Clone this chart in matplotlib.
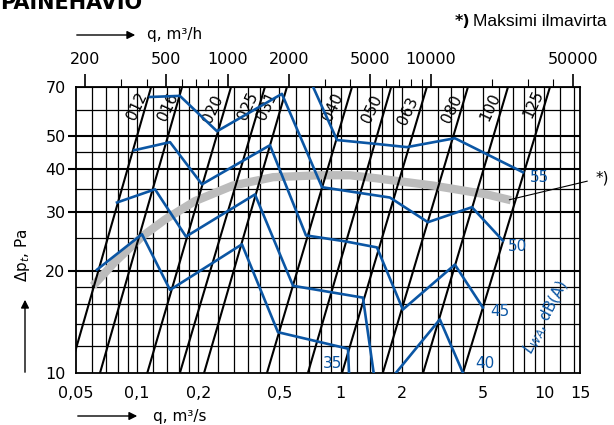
import matplotlib
matplotlib.use("Agg")
import matplotlib.pyplot as plt
from matplotlib.ticker import NullLocator, NullFormatter

# --- fan size lines: q (m3/s) where each line meets 10 Pa and 70 Pa ---
size_labels = ["012", "016", "020", "025", "031", "040", "050", "063", "080", "100", "125"]
size_q_at_10 = [0.0462, 0.0656, 0.112, 0.162, 0.213, 0.434, 0.690, 1.015, 1.61, 2.54, 3.99]
size_q_at_70 = [0.117, 0.166, 0.289, 0.424, 0.544, 1.136, 1.77, 2.65, 4.22, 6.64, 10.68]
size_label_q = [0.0997, 0.1416, 0.236, 0.350, 0.433, 0.916, 1.42, 2.14, 3.51, 5.42, 8.83]
size_label_p = [61.6, 61.2, 60.3, 61.6, 61.6, 61.2, 60.3, 59.5, 60.3, 61.2, 62.4]

# --- sound power level contours L_WA, dB(A) ---
lwa35_q = [0.0634, 0.1055, 0.1449, 0.327, 0.4915, 1.086, 1.11]
lwa35_p = [20.2, 25.7, 17.6, 24.0, 13.2, 11.8, 8.6]
lwa40_q = [0.0795, 0.1223, 0.1736, 0.379, 0.583, 1.286, 1.507, 3.07, 3.99]
lwa40_p = [31.9, 34.9, 25.3, 33.7, 18.1, 16.7, 8.55, 14.4, 10.0]
lwa45_q = [0.0964, 0.1449, 0.208, 0.449, 0.675, 1.049, 1.507, 2.02, 3.64, 5.0]
lwa45_p = [45.5, 48.1, 36.1, 47.1, 25.5, 24.5, 23.5, 15.4, 20.9, 15.6]
lwa50_q = [0.1155, 0.162, 0.2466, 0.514, 0.809, 1.745, 2.683, 4.415, 6.27]
lwa50_p = [65.4, 65.9, 51.8, 66.8, 35.4, 33.0, 27.9, 30.9, 24.6]
lwa55_q = [0.609, 0.959, 1.507, 2.116, 3.64, 7.86]
lwa55_p = [89.5, 48.8, 47.5, 46.5, 49.4, 39.2]

lwa_levels = ["35", "40", "45", "50", "55"]
lwa_label_q = [0.91, 5.11, 6.06, 7.40, 9.50]
lwa_label_p = [10.7, 10.7, 15.2, 23.6, 37.9]

# --- maximum airflow curve (grey band) ---
max_q = [0.0606, 0.0777, 0.1055, 0.1368, 0.192, 0.295, 0.465, 0.79, 1.11, 1.507, 2.84, 5.23, 6.86]
max_p = [18.1, 21.3, 25.3, 28.4, 32.2, 35.8, 37.9, 38.4, 38.4, 37.6, 35.8, 33.7, 32.4]

# --- axes scaffolding ---
x_ticks = [0.05, 0.1, 0.2, 0.5, 1, 2, 5, 10, 15]
x_ticklabels = ["0,05", "0,1", "0,2", "0,5", "1", "2", "5", "10", "15"]
y_ticks = [10, 20, 30, 40, 50, 70]
x_grid = [0.06, 0.07, 0.08, 0.09, 0.1, 0.12, 0.14, 0.16, 0.18, 0.2, 0.25, 0.3, 0.35, 0.4,
          0.5, 0.6, 0.7, 0.8, 0.9, 1, 1.2, 1.4, 1.6, 1.8, 2, 2.5, 3, 3.5, 4, 5, 6, 7, 8, 9,
          10, 12, 14]
y_grid = [12, 14, 16, 18, 25, 35, 45, 60]
y_grid_major = [20, 30, 40, 50]
top_major = [200, 500, 1000, 2000, 5000, 10000, 50000]
top_minor = [300, 400, 600, 700, 800, 900, 3000, 4000, 6000, 7000, 8000, 9000,
             20000, 30000, 40000]

BLUE = "#0b56a4"

fig = plt.figure(figsize=(6.14, 4.25), dpi=100)
ax = fig.add_axes([76 / 614, 52 / 425, 504 / 614, 286 / 425])
ax.set_xscale("log")
ax.set_yscale("log")
ax.set_xlim(0.05, 15)
ax.set_ylim(10, 70)

for x in x_grid:
    ax.axvline(x, color="black", lw=0.9, zorder=1)
for y in y_grid:
    ax.axhline(y, color="black", lw=0.9, zorder=1)
for y in y_grid_major:
    ax.axhline(y, color="black", lw=1.5, zorder=1)

# max airflow band
ax.plot(max_q, max_p, color="#bcbcbc", lw=6, solid_capstyle="butt", zorder=2)

# size lines + labels
for lab, q0, q1, lq, lp in zip(size_labels, size_q_at_10, size_q_at_70, size_label_q, size_label_p):
    ax.plot([q0, q1], [10, 70], color="black", lw=1.5, zorder=3)
    ax.text(lq, lp, lab, rotation=65, ha="center", va="center", fontsize=11,
            rotation_mode="anchor", zorder=4)

# LWA contours
for qs, ps in [(lwa35_q, lwa35_p), (lwa40_q, lwa40_p), (lwa45_q, lwa45_p),
               (lwa50_q, lwa50_p), (lwa55_q, lwa55_p)]:
    ax.plot(qs, ps, color=BLUE, lw=1.9, zorder=5)
for lab, lq, lp in zip(lwa_levels, lwa_label_q, lwa_label_p):
    ax.text(lq, lp, lab, color=BLUE, fontsize=11, ha="center", va="center", zorder=6)
ax.text(10.2, 14.65, r"$L_{WA}$, dB(A)", color=BLUE, fontsize=11, rotation=63,
        ha="center", va="center", rotation_mode="anchor", zorder=6)

# *) leader
ax.annotate("*)", xy=(6.74, 32.5), xytext=(19.3, 37.8), fontsize=11,
            ha="center", va="center",
            arrowprops=dict(arrowstyle="-", color="black", lw=0.8, shrinkA=4, shrinkB=0))

# ticks
ax.xaxis.set_minor_locator(NullLocator())
ax.yaxis.set_minor_locator(NullLocator())
ax.set_xticks(x_ticks, labels=x_ticklabels)
ax.set_yticks(y_ticks, labels=[str(v) for v in y_ticks])
ax.tick_params(axis="x", length=0, pad=9, labelsize=11.5)
ax.tick_params(axis="y", length=6, width=1.5, pad=1.5, labelsize=11.5)
for t in ax.yaxis.get_major_ticks():
    if t.get_loc() in (10, 70):
        t.tick1line.set_visible(False)
for s in ax.spines.values():
    s.set_linewidth(1.3)

sec = ax.secondary_xaxis("top", functions=(lambda q: q * 3600, lambda h: h / 3600))
sec.set_xticks(top_major, labels=[str(v) for v in top_major])
sec.set_xticks(top_minor, minor=True)
sec.xaxis.set_minor_formatter(NullFormatter())
sec.tick_params(which="major", length=9.5, width=1.2, pad=5, labelsize=11.5)
sec.tick_params(which="minor", length=6, width=0.8)

# header texts and arrows
fig.text(0, 416, "PAINEHÄVIÖ", transform=None, fontsize=15, fontweight="bold",
         ha="left", va="baseline")
fig.text(455, 403, "*)", transform=None, fontsize=11.5, fontweight="bold", ha="left", va="center")
fig.text(473, 403, "Maksimi ilmavirta", transform=None, fontsize=12.5,
         family="Liberation Sans", ha="left", va="center")

ax.annotate("", xy=(138, 390), xytext=(74, 390), xycoords="figure pixels",
            textcoords="figure pixels",
            arrowprops=dict(arrowstyle="-|>", color="black", lw=1, mutation_scale=12))
fig.text(147, 390, "q, m³/h", transform=None, fontsize=11, ha="left", va="center")
ax.annotate("", xy=(140, 9), xytext=(75, 9), xycoords="figure pixels",
            textcoords="figure pixels",
            arrowprops=dict(arrowstyle="-|>", color="black", lw=1, mutation_scale=12))
fig.text(153, 9, "q, m³/s", transform=None, fontsize=11, ha="left", va="center")
ax.annotate("", xy=(25, 128), xytext=(25, 50), xycoords="figure pixels",
            textcoords="figure pixels",
            arrowprops=dict(arrowstyle="-|>", color="black", lw=1, mutation_scale=12))
fig.text(23, 170, r"$\Delta$p$_t$, Pa", transform=None, fontsize=11, rotation=90,
         ha="center", va="center")

fig.savefig("out.png", dpi=100)
